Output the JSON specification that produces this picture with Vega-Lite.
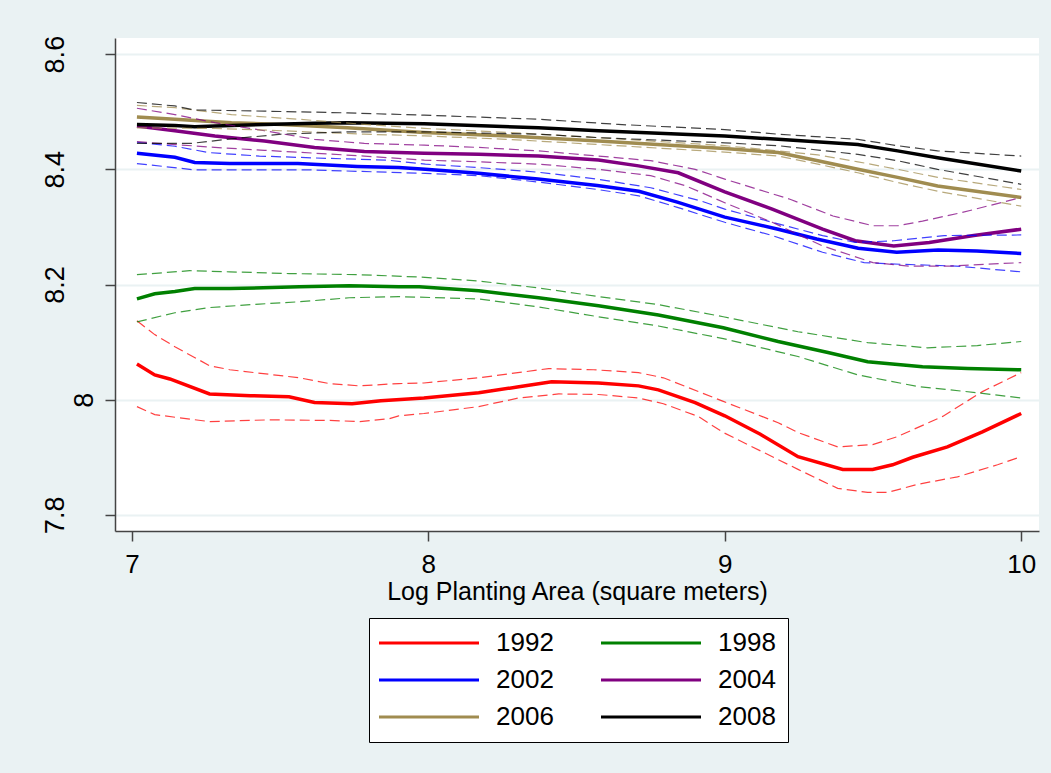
{
"$schema": "https://vega.github.io/schema/vega-lite/v6.json",
"width": 924, "height": 493,
"autosize": {"type": "none"},
"padding": {"left": 115, "top": 38, "right": 12, "bottom": 242},
"background": "#EAF2F3",
"config": {"view": {"fill": "white", "stroke": null}, "font": "Liberation Sans"},
"data": {"values": [
{"year":"1992","band":"fit","x":7.017,"y":8.062},{"year":"1992","band":"fit","x":7.077,"y":8.043},{"year":"1992","band":"fit","x":7.128,"y":8.036},{"year":"1992","band":"fit","x":7.262,"y":8.010},{"year":"1992","band":"fit","x":7.40,"y":8.007},{"year":"1992","band":"fit","x":7.53,"y":8.005},{"year":"1992","band":"fit","x":7.616,"y":7.995},{"year":"1992","band":"fit","x":7.743,"y":7.993},{"year":"1992","band":"fit","x":7.84,"y":7.998},{"year":"1992","band":"fit","x":7.985,"y":8.003},{"year":"1992","band":"fit","x":8.17,"y":8.012},{"year":"1992","band":"fit","x":8.30,"y":8.022},{"year":"1992","band":"fit","x":8.416,"y":8.031},{"year":"1992","band":"fit","x":8.574,"y":8.029},{"year":"1992","band":"fit","x":8.709,"y":8.024},{"year":"1992","band":"fit","x":8.776,"y":8.017},{"year":"1992","band":"fit","x":8.90,"y":7.995},{"year":"1992","band":"fit","x":9.0,"y":7.972},{"year":"1992","band":"fit","x":9.12,"y":7.940},{"year":"1992","band":"fit","x":9.247,"y":7.901},{"year":"1992","band":"fit","x":9.398,"y":7.879},{"year":"1992","band":"fit","x":9.499,"y":7.879},{"year":"1992","band":"fit","x":9.566,"y":7.887},{"year":"1992","band":"fit","x":9.634,"y":7.900},{"year":"1992","band":"fit","x":9.751,"y":7.918},{"year":"1992","band":"fit","x":9.869,"y":7.944},{"year":"1992","band":"fit","x":10.0,"y":7.976},
{"year":"1992","band":"hi","x":7.017,"y":8.137},{"year":"1992","band":"hi","x":7.077,"y":8.113},{"year":"1992","band":"hi","x":7.145,"y":8.092},{"year":"1992","band":"hi","x":7.262,"y":8.059},{"year":"1992","band":"hi","x":7.33,"y":8.052},{"year":"1992","band":"hi","x":7.565,"y":8.038},{"year":"1992","band":"hi","x":7.666,"y":8.028},{"year":"1992","band":"hi","x":7.767,"y":8.024},{"year":"1992","band":"hi","x":7.90,"y":8.028},{"year":"1992","band":"hi","x":7.985,"y":8.029},{"year":"1992","band":"hi","x":8.17,"y":8.038},{"year":"1992","band":"hi","x":8.406,"y":8.054},{"year":"1992","band":"hi","x":8.557,"y":8.052},{"year":"1992","band":"hi","x":8.709,"y":8.047},{"year":"1992","band":"hi","x":8.793,"y":8.038},{"year":"1992","band":"hi","x":8.995,"y":7.997},{"year":"1992","band":"hi","x":9.18,"y":7.960},{"year":"1992","band":"hi","x":9.247,"y":7.943},{"year":"1992","band":"hi","x":9.381,"y":7.918},{"year":"1992","band":"hi","x":9.499,"y":7.922},{"year":"1992","band":"hi","x":9.583,"y":7.936},{"year":"1992","band":"hi","x":9.735,"y":7.971},{"year":"1992","band":"hi","x":9.869,"y":8.014},{"year":"1992","band":"hi","x":10.0,"y":8.047},
{"year":"1992","band":"lo","x":7.017,"y":7.988},{"year":"1992","band":"lo","x":7.077,"y":7.974},{"year":"1992","band":"lo","x":7.262,"y":7.962},{"year":"1992","band":"lo","x":7.464,"y":7.965},{"year":"1992","band":"lo","x":7.666,"y":7.964},{"year":"1992","band":"lo","x":7.767,"y":7.962},{"year":"1992","band":"lo","x":7.868,"y":7.967},{"year":"1992","band":"lo","x":7.90,"y":7.972},{"year":"1992","band":"lo","x":7.985,"y":7.976},{"year":"1992","band":"lo","x":8.17,"y":7.988},{"year":"1992","band":"lo","x":8.305,"y":8.003},{"year":"1992","band":"lo","x":8.44,"y":8.010},{"year":"1992","band":"lo","x":8.574,"y":8.009},{"year":"1992","band":"lo","x":8.709,"y":8.003},{"year":"1992","band":"lo","x":8.793,"y":7.993},{"year":"1992","band":"lo","x":8.91,"y":7.971},{"year":"1992","band":"lo","x":8.995,"y":7.943},{"year":"1992","band":"lo","x":9.247,"y":7.879},{"year":"1992","band":"lo","x":9.381,"y":7.846},{"year":"1992","band":"lo","x":9.482,"y":7.839},{"year":"1992","band":"lo","x":9.55,"y":7.839},{"year":"1992","band":"lo","x":9.65,"y":7.853},{"year":"1992","band":"lo","x":9.785,"y":7.866},{"year":"1992","band":"lo","x":9.92,"y":7.887},{"year":"1992","band":"lo","x":10.0,"y":7.901},
{"year":"1998","band":"fit","x":7.017,"y":8.175},{"year":"1998","band":"fit","x":7.077,"y":8.184},{"year":"1998","band":"fit","x":7.145,"y":8.188},{"year":"1998","band":"fit","x":7.212,"y":8.193},{"year":"1998","band":"fit","x":7.33,"y":8.193},{"year":"1998","band":"fit","x":7.565,"y":8.196},{"year":"1998","band":"fit","x":7.733,"y":8.198},{"year":"1998","band":"fit","x":7.90,"y":8.196},{"year":"1998","band":"fit","x":7.969,"y":8.196},{"year":"1998","band":"fit","x":8.17,"y":8.189},{"year":"1998","band":"fit","x":8.372,"y":8.177},{"year":"1998","band":"fit","x":8.574,"y":8.163},{"year":"1998","band":"fit","x":8.776,"y":8.147},{"year":"1998","band":"fit","x":8.995,"y":8.125},{"year":"1998","band":"fit","x":9.18,"y":8.101},{"year":"1998","band":"fit","x":9.348,"y":8.082},{"year":"1998","band":"fit","x":9.482,"y":8.066},{"year":"1998","band":"fit","x":9.667,"y":8.057},{"year":"1998","band":"fit","x":9.819,"y":8.054},{"year":"1998","band":"fit","x":10.0,"y":8.052},
{"year":"1998","band":"hi","x":7.017,"y":8.217},{"year":"1998","band":"hi","x":7.195,"y":8.224},{"year":"1998","band":"hi","x":7.33,"y":8.222},{"year":"1998","band":"hi","x":7.531,"y":8.219},{"year":"1998","band":"hi","x":7.767,"y":8.217},{"year":"1998","band":"hi","x":7.969,"y":8.213},{"year":"1998","band":"hi","x":8.17,"y":8.206},{"year":"1998","band":"hi","x":8.372,"y":8.194},{"year":"1998","band":"hi","x":8.574,"y":8.179},{"year":"1998","band":"hi","x":8.776,"y":8.165},{"year":"1998","band":"hi","x":8.995,"y":8.144},{"year":"1998","band":"hi","x":9.247,"y":8.118},{"year":"1998","band":"hi","x":9.482,"y":8.099},{"year":"1998","band":"hi","x":9.684,"y":8.090},{"year":"1998","band":"hi","x":9.852,"y":8.094},{"year":"1998","band":"hi","x":10.0,"y":8.101},
{"year":"1998","band":"lo","x":7.017,"y":8.135},{"year":"1998","band":"lo","x":7.145,"y":8.151},{"year":"1998","band":"lo","x":7.262,"y":8.160},{"year":"1998","band":"lo","x":7.43,"y":8.166},{"year":"1998","band":"lo","x":7.565,"y":8.170},{"year":"1998","band":"lo","x":7.733,"y":8.177},{"year":"1998","band":"lo","x":7.90,"y":8.179},{"year":"1998","band":"lo","x":8.17,"y":8.175},{"year":"1998","band":"lo","x":8.372,"y":8.161},{"year":"1998","band":"lo","x":8.574,"y":8.144},{"year":"1998","band":"lo","x":8.776,"y":8.128},{"year":"1998","band":"lo","x":8.995,"y":8.106},{"year":"1998","band":"lo","x":9.247,"y":8.075},{"year":"1998","band":"lo","x":9.449,"y":8.043},{"year":"1998","band":"lo","x":9.65,"y":8.023},{"year":"1998","band":"lo","x":9.852,"y":8.012},{"year":"1998","band":"lo","x":10.0,"y":8.003},
{"year":"2002","band":"fit","x":7.017,"y":8.428},{"year":"2002","band":"fit","x":7.145,"y":8.421},{"year":"2002","band":"fit","x":7.212,"y":8.412},{"year":"2002","band":"fit","x":7.33,"y":8.410},{"year":"2002","band":"fit","x":7.56,"y":8.410},{"year":"2002","band":"fit","x":7.76,"y":8.405},{"year":"2002","band":"fit","x":7.90,"y":8.403},{"year":"2002","band":"fit","x":7.99,"y":8.400},{"year":"2002","band":"fit","x":8.17,"y":8.393},{"year":"2002","band":"fit","x":8.37,"y":8.383},{"year":"2002","band":"fit","x":8.57,"y":8.372},{"year":"2002","band":"fit","x":8.71,"y":8.362},{"year":"2002","band":"fit","x":8.84,"y":8.343},{"year":"2002","band":"fit","x":9.0,"y":8.317},{"year":"2002","band":"fit","x":9.18,"y":8.296},{"year":"2002","band":"fit","x":9.31,"y":8.279},{"year":"2002","band":"fit","x":9.45,"y":8.263},{"year":"2002","band":"fit","x":9.58,"y":8.256},{"year":"2002","band":"fit","x":9.72,"y":8.260},{"year":"2002","band":"fit","x":9.85,"y":8.258},{"year":"2002","band":"fit","x":10.0,"y":8.254},
{"year":"2002","band":"hi","x":7.017,"y":8.447},{"year":"2002","band":"hi","x":7.145,"y":8.440},{"year":"2002","band":"hi","x":7.26,"y":8.429},{"year":"2002","band":"hi","x":7.43,"y":8.423},{"year":"2002","band":"hi","x":7.66,"y":8.419},{"year":"2002","band":"hi","x":7.86,"y":8.416},{"year":"2002","band":"hi","x":7.99,"y":8.409},{"year":"2002","band":"hi","x":8.17,"y":8.403},{"year":"2002","band":"hi","x":8.37,"y":8.395},{"year":"2002","band":"hi","x":8.57,"y":8.383},{"year":"2002","band":"hi","x":8.75,"y":8.368},{"year":"2002","band":"hi","x":8.92,"y":8.345},{"year":"2002","band":"hi","x":9.0,"y":8.331},{"year":"2002","band":"hi","x":9.16,"y":8.308},{"year":"2002","band":"hi","x":9.33,"y":8.285},{"year":"2002","band":"hi","x":9.44,"y":8.273},{"year":"2002","band":"hi","x":9.57,"y":8.276},{"year":"2002","band":"hi","x":9.74,"y":8.285},{"year":"2002","band":"hi","x":10.0,"y":8.286},
{"year":"2002","band":"lo","x":7.017,"y":8.410},{"year":"2002","band":"lo","x":7.212,"y":8.399},{"year":"2002","band":"lo","x":7.60,"y":8.399},{"year":"2002","band":"lo","x":7.99,"y":8.393},{"year":"2002","band":"lo","x":8.17,"y":8.389},{"year":"2002","band":"lo","x":8.37,"y":8.378},{"year":"2002","band":"lo","x":8.57,"y":8.365},{"year":"2002","band":"lo","x":8.71,"y":8.354},{"year":"2002","band":"lo","x":8.84,"y":8.334},{"year":"2002","band":"lo","x":9.0,"y":8.308},{"year":"2002","band":"lo","x":9.16,"y":8.285},{"year":"2002","band":"lo","x":9.33,"y":8.256},{"year":"2002","band":"lo","x":9.47,"y":8.238},{"year":"2002","band":"lo","x":9.60,"y":8.235},{"year":"2002","band":"lo","x":9.78,"y":8.232},{"year":"2002","band":"lo","x":10.0,"y":8.222},
{"year":"2004","band":"fit","x":7.017,"y":8.475},{"year":"2004","band":"fit","x":7.145,"y":8.467},{"year":"2004","band":"fit","x":7.28,"y":8.458},{"year":"2004","band":"fit","x":7.447,"y":8.449},{"year":"2004","band":"fit","x":7.616,"y":8.438},{"year":"2004","band":"fit","x":7.784,"y":8.431},{"year":"2004","band":"fit","x":7.986,"y":8.428},{"year":"2004","band":"fit","x":8.17,"y":8.426},{"year":"2004","band":"fit","x":8.372,"y":8.423},{"year":"2004","band":"fit","x":8.574,"y":8.416},{"year":"2004","band":"fit","x":8.709,"y":8.406},{"year":"2004","band":"fit","x":8.843,"y":8.394},{"year":"2004","band":"fit","x":9.0,"y":8.361},{"year":"2004","band":"fit","x":9.16,"y":8.331},{"year":"2004","band":"fit","x":9.33,"y":8.296},{"year":"2004","band":"fit","x":9.44,"y":8.276},{"year":"2004","band":"fit","x":9.57,"y":8.267},{"year":"2004","band":"fit","x":9.69,"y":8.273},{"year":"2004","band":"fit","x":9.84,"y":8.285},{"year":"2004","band":"fit","x":10.0,"y":8.296},
{"year":"2004","band":"hi","x":7.017,"y":8.506},{"year":"2004","band":"hi","x":7.145,"y":8.495},{"year":"2004","band":"hi","x":7.28,"y":8.481},{"year":"2004","band":"hi","x":7.447,"y":8.467},{"year":"2004","band":"hi","x":7.616,"y":8.452},{"year":"2004","band":"hi","x":7.784,"y":8.445},{"year":"2004","band":"hi","x":7.986,"y":8.442},{"year":"2004","band":"hi","x":8.17,"y":8.438},{"year":"2004","band":"hi","x":8.372,"y":8.432},{"year":"2004","band":"hi","x":8.574,"y":8.423},{"year":"2004","band":"hi","x":8.75,"y":8.415},{"year":"2004","band":"hi","x":8.90,"y":8.400},{"year":"2004","band":"hi","x":9.0,"y":8.383},{"year":"2004","band":"hi","x":9.22,"y":8.348},{"year":"2004","band":"hi","x":9.365,"y":8.319},{"year":"2004","band":"hi","x":9.50,"y":8.302},{"year":"2004","band":"hi","x":9.583,"y":8.302},{"year":"2004","band":"hi","x":9.667,"y":8.310},{"year":"2004","band":"hi","x":9.80,"y":8.325},{"year":"2004","band":"hi","x":10.0,"y":8.351},
{"year":"2004","band":"lo","x":7.017,"y":8.448},{"year":"2004","band":"lo","x":7.145,"y":8.443},{"year":"2004","band":"lo","x":7.28,"y":8.438},{"year":"2004","band":"lo","x":7.447,"y":8.433},{"year":"2004","band":"lo","x":7.616,"y":8.428},{"year":"2004","band":"lo","x":7.784,"y":8.423},{"year":"2004","band":"lo","x":7.986,"y":8.416},{"year":"2004","band":"lo","x":8.17,"y":8.413},{"year":"2004","band":"lo","x":8.372,"y":8.409},{"year":"2004","band":"lo","x":8.574,"y":8.400},{"year":"2004","band":"lo","x":8.75,"y":8.389},{"year":"2004","band":"lo","x":8.87,"y":8.371},{"year":"2004","band":"lo","x":9.0,"y":8.342},{"year":"2004","band":"lo","x":9.16,"y":8.308},{"year":"2004","band":"lo","x":9.33,"y":8.267},{"year":"2004","band":"lo","x":9.50,"y":8.238},{"year":"2004","band":"lo","x":9.62,"y":8.232},{"year":"2004","band":"lo","x":9.76,"y":8.232},{"year":"2004","band":"lo","x":10.0,"y":8.238},
{"year":"2006","band":"fit","x":7.017,"y":8.491},{"year":"2006","band":"fit","x":7.145,"y":8.487},{"year":"2006","band":"fit","x":7.336,"y":8.481},{"year":"2006","band":"fit","x":7.505,"y":8.478},{"year":"2006","band":"fit","x":7.727,"y":8.472},{"year":"2006","band":"fit","x":7.986,"y":8.464},{"year":"2006","band":"fit","x":8.27,"y":8.458},{"year":"2006","band":"fit","x":8.574,"y":8.449},{"year":"2006","band":"fit","x":9.0,"y":8.436},{"year":"2006","band":"fit","x":9.18,"y":8.429},{"year":"2006","band":"fit","x":9.314,"y":8.415},{"year":"2006","band":"fit","x":9.449,"y":8.400},{"year":"2006","band":"fit","x":9.583,"y":8.386},{"year":"2006","band":"fit","x":9.718,"y":8.371},{"year":"2006","band":"fit","x":10.0,"y":8.351},
{"year":"2006","band":"hi","x":7.017,"y":8.511},{"year":"2006","band":"hi","x":7.145,"y":8.507},{"year":"2006","band":"hi","x":7.336,"y":8.495},{"year":"2006","band":"hi","x":7.56,"y":8.487},{"year":"2006","band":"hi","x":7.784,"y":8.478},{"year":"2006","band":"hi","x":7.986,"y":8.471},{"year":"2006","band":"hi","x":8.27,"y":8.464},{"year":"2006","band":"hi","x":8.574,"y":8.455},{"year":"2006","band":"hi","x":9.0,"y":8.441},{"year":"2006","band":"hi","x":9.18,"y":8.432},{"year":"2006","band":"hi","x":9.314,"y":8.425},{"year":"2006","band":"hi","x":9.449,"y":8.413},{"year":"2006","band":"hi","x":9.583,"y":8.400},{"year":"2006","band":"hi","x":9.718,"y":8.386},{"year":"2006","band":"hi","x":10.0,"y":8.365},
{"year":"2006","band":"lo","x":7.017,"y":8.472},{"year":"2006","band":"lo","x":7.28,"y":8.471},{"year":"2006","band":"lo","x":7.505,"y":8.467},{"year":"2006","band":"lo","x":7.784,"y":8.461},{"year":"2006","band":"lo","x":7.986,"y":8.458},{"year":"2006","band":"lo","x":8.27,"y":8.452},{"year":"2006","band":"lo","x":8.574,"y":8.443},{"year":"2006","band":"lo","x":9.0,"y":8.430},{"year":"2006","band":"lo","x":9.18,"y":8.423},{"year":"2006","band":"lo","x":9.314,"y":8.409},{"year":"2006","band":"lo","x":9.449,"y":8.394},{"year":"2006","band":"lo","x":9.583,"y":8.377},{"year":"2006","band":"lo","x":9.718,"y":8.362},{"year":"2006","band":"lo","x":10.0,"y":8.336},
{"year":"2008","band":"fit","x":7.017,"y":8.478},{"year":"2008","band":"fit","x":7.145,"y":8.476},{"year":"2008","band":"fit","x":7.212,"y":8.474},{"year":"2008","band":"fit","x":7.28,"y":8.475},{"year":"2008","band":"fit","x":7.447,"y":8.478},{"year":"2008","band":"fit","x":7.616,"y":8.480},{"year":"2008","band":"fit","x":7.727,"y":8.481},{"year":"2008","band":"fit","x":7.986,"y":8.479},{"year":"2008","band":"fit","x":8.372,"y":8.472},{"year":"2008","band":"fit","x":8.574,"y":8.467},{"year":"2008","band":"fit","x":9.0,"y":8.458},{"year":"2008","band":"fit","x":9.18,"y":8.452},{"year":"2008","band":"fit","x":9.449,"y":8.443},{"year":"2008","band":"fit","x":9.583,"y":8.432},{"year":"2008","band":"fit","x":9.718,"y":8.420},{"year":"2008","band":"fit","x":10.0,"y":8.397},
{"year":"2008","band":"hi","x":7.017,"y":8.516},{"year":"2008","band":"hi","x":7.145,"y":8.510},{"year":"2008","band":"hi","x":7.212,"y":8.503},{"year":"2008","band":"hi","x":7.447,"y":8.501},{"year":"2008","band":"hi","x":7.727,"y":8.498},{"year":"2008","band":"hi","x":7.986,"y":8.494},{"year":"2008","band":"hi","x":8.372,"y":8.487},{"year":"2008","band":"hi","x":8.64,"y":8.478},{"year":"2008","band":"hi","x":9.0,"y":8.469},{"year":"2008","band":"hi","x":9.18,"y":8.461},{"year":"2008","band":"hi","x":9.449,"y":8.452},{"year":"2008","band":"hi","x":9.583,"y":8.441},{"year":"2008","band":"hi","x":9.718,"y":8.432},{"year":"2008","band":"hi","x":10.0,"y":8.423},
{"year":"2008","band":"lo","x":7.017,"y":8.445},{"year":"2008","band":"lo","x":7.20,"y":8.445},{"year":"2008","band":"lo","x":7.336,"y":8.453},{"year":"2008","band":"lo","x":7.505,"y":8.461},{"year":"2008","band":"lo","x":7.727,"y":8.465},{"year":"2008","band":"lo","x":7.986,"y":8.465},{"year":"2008","band":"lo","x":8.372,"y":8.461},{"year":"2008","band":"lo","x":8.574,"y":8.455},{"year":"2008","band":"lo","x":9.0,"y":8.446},{"year":"2008","band":"lo","x":9.18,"y":8.441},{"year":"2008","band":"lo","x":9.449,"y":8.426},{"year":"2008","band":"lo","x":9.583,"y":8.415},{"year":"2008","band":"lo","x":9.718,"y":8.400},{"year":"2008","band":"lo","x":10.0,"y":8.374}
]},
"encoding": {
  "x": {"field": "x", "type": "quantitative",
    "scale": {"domain": [6.943, 10.06], "nice": false, "zero": false},
    "axis": {"title": "Log Planting Area (square meters)", "values": [7, 8, 9, 10], "format": "d", "grid": false,
      "domainColor": "#444", "domainWidth": 1.5, "tickColor": "#444", "tickWidth": 1.5, "tickSize": 10,
      "labelFontSize": 26, "labelColor": "black", "labelPadding": 10, "labelFlush": false,
      "titleFontSize": 25, "titleFontWeight": "normal", "titleColor": "black", "titlePadding": 2}},
  "y": {"field": "y", "type": "quantitative",
    "scale": {"domain": [7.772, 8.628], "nice": false, "zero": false},
    "axis": {"title": null, "values": [7.8, 8, 8.2, 8.4, 8.6], "format": "~g", "grid": true,
      "gridColor": "#EAF2F3", "gridWidth": 2,
      "domainColor": "#444", "domainWidth": 1.5, "tickColor": "#444", "tickWidth": 1.5, "tickSize": 10,
      "labelFontSize": 27, "labelColor": "black", "labelAngle": 270, "labelAlign": "center", "labelBaseline": "alphabetic",
      "labelPadding": {"condition": {"test": "datum.value == 8", "value": 13}, "value": 42}}},
  "color": {"field": "year", "type": "nominal",
    "scale": {"domain": ["1992", "1998", "2002", "2004", "2006", "2008"],
              "range": ["#FF0000", "#008000", "#0000FF", "#800080", "#A08C50", "#000000"]},
    "legend": {"orient": "none", "legendX": 254, "legendY": 580, "columns": 2, "direction": "horizontal", "title": null,
         "symbolType": "M-1.5,0H8.5", "symbolSize": 400, "symbolStrokeWidth": 3, "symbolDash": [100, 0], "symbolOpacity": 1,
         "labelOffset": 89, "labelFontSize": 26, "labelColor": "black", "labelBaseline": "middle",
         "columnPadding": 41, "rowPadding": 11, "padding": 12,
         "strokeColor": "black", "fillColor": "white"}}
},
"layer": [
  {"transform": [{"filter": "datum.band == 'fit'"}],
   "mark": {"type": "line", "strokeWidth": 3.5}},
  {"transform": [{"filter": "datum.band != 'fit'"}],
   "mark": {"type": "line", "strokeWidth": 1.2, "strokeDash": [10, 5], "opacity": 0.75},
   "encoding": {"detail": {"field": "band"}}}
]
}
